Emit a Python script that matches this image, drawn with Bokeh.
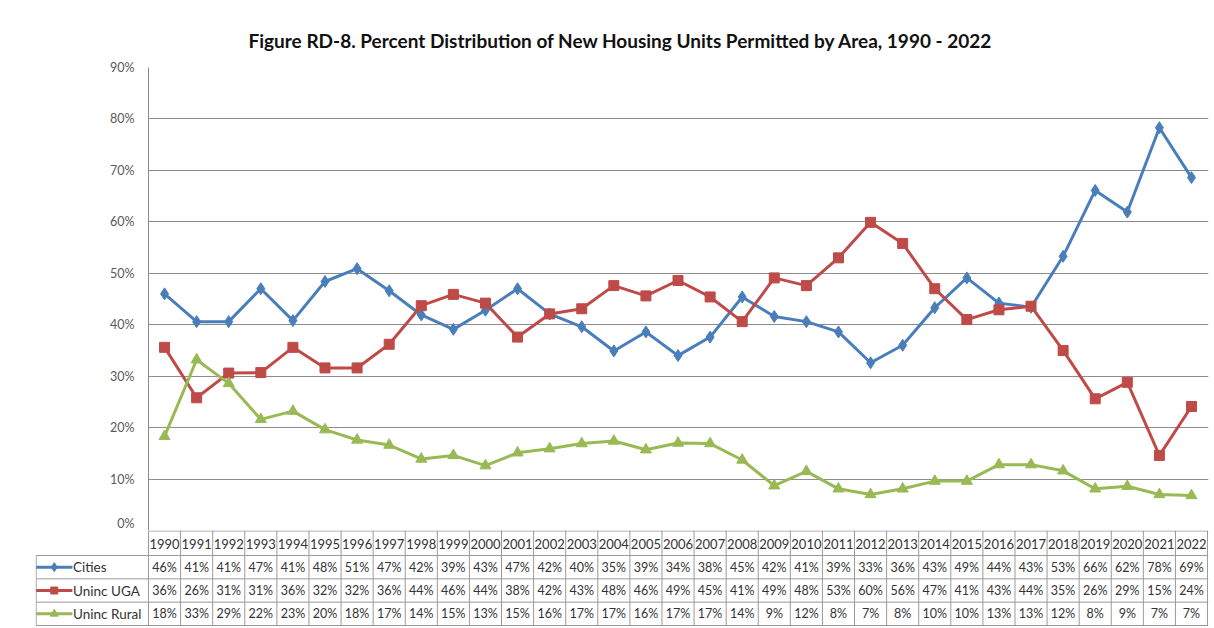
from bokeh.plotting import figure
from bokeh.models import Range1d, FixedTicker, PrintfTickFormatter, Title
from bokeh.core.properties import value
from bokeh.embed import file_html
from bokeh.resources import INLINE

years = [str(y) for y in range(1990, 2023)]
series_names = ["Cities", "Uninc UGA", "Uninc Rural"]
cities = [46.0, 40.6, 40.6, 47.0, 40.8, 48.4, 50.9, 46.6, 41.9, 39.1, 42.8, 47.0,
          42.1, 39.6, 34.9, 38.6, 34.0, 37.6, 45.4, 41.6, 40.6, 38.6, 32.6, 36.0,
          43.3, 49.1, 44.2, 43.4, 53.3, 66.1, 61.9, 78.3, 68.6]
uga = [35.6, 25.8, 30.6, 30.7, 35.6, 31.6, 31.6, 36.2, 43.7, 45.9, 44.2, 37.6,
       42.1, 43.1, 47.6, 45.6, 48.6, 45.4, 40.6, 49.1, 47.6, 53.0, 59.9, 55.8,
       47.0, 41.0, 42.9, 43.6, 35.0, 25.6, 28.8, 14.6, 24.1]
rural = [18.3, 33.2, 28.6, 21.6, 23.2, 19.6, 17.6, 16.6, 13.9, 14.6, 12.6, 15.1,
         15.9, 16.9, 17.4, 15.7, 17.0, 16.9, 13.7, 8.7, 11.5, 8.1, 7.0, 8.1,
         9.6, 9.6, 12.8, 12.8, 11.6, 8.1, 8.6, 7.0, 6.8]
y_ticks = [0, 10, 20, 30, 40, 50, 60, 70, 80, 90]

colors = ["#4a7ebb", "#be4b48", "#98b954"]
markers = ["diamond", "square", "triangle"]
msizes = [12, 10, 11]
all_series = [cities, uga, rural]

FONT = "Lato"
N = len(years)
XMAX = N + 0.03
W = 1210
FRAME_L = 148
FRAME_R = 2
TABLE_L = 35
unit = (W - FRAME_L - FRAME_R) / XMAX
LEG = (FRAME_L - TABLE_L) / unit

xs = [i + 0.5 for i in range(N)]

p = figure(width=W, height=530, x_range=Range1d(0, XMAX), y_range=Range1d(0, 90),
           output_backend="svg", toolbar_location=None,
           min_border_left=FRAME_L, min_border_right=FRAME_R, min_border_top=67, min_border_bottom=0)
p.title = Title(text="Figure RD-8. Percent Distribution of New Housing Units Permitted by Area, 1990 - 2022",
                align="left", text_font=FONT, text_font_size="19px", text_font_style="bold",
                text_color="#111111", offset=100, standoff=31)
p.xaxis.visible = False
p.xgrid.visible = False
p.outline_line_color = None
p.yaxis.ticker = FixedTicker(ticks=y_ticks)
p.yaxis.formatter = PrintfTickFormatter(format="%d%%")
p.yaxis.major_tick_line_color = None
p.yaxis.minor_tick_line_color = None
p.yaxis.major_tick_out = 0
p.yaxis.major_tick_in = 0
p.yaxis.axis_line_color = "#8a8a8a"
p.yaxis.major_label_text_font = FONT
p.yaxis.major_label_text_font_size = "12.5px"
p.yaxis.major_label_text_color = "#595959"
p.yaxis.major_label_standoff = 14
p.ygrid.grid_line_color = "#8c8c8c"
p.ygrid.grid_line_width = 1

for vals, c, m, s in zip(all_series, colors, markers, msizes):
    p.line(xs, vals, line_color=c, line_width=3)
    p.scatter(xs, vals, marker=m, size=s, fill_color=c, line_color=c)

# ---- data table below the chart ----
TH = 96
t = figure(width=W, height=TH, x_range=Range1d(-LEG, XMAX), y_range=Range1d(TH, 0),
           output_backend="svg", toolbar_location=None,
           min_border_left=TABLE_L, min_border_right=FRAME_R, min_border_top=0, min_border_bottom=0)
t.axis.visible = False
t.grid.visible = False
t.outline_line_color = None

hdr = 25
rh = (TH - 1 - hdr) / 3
row_y = [hdr + rh * k for k in range(4)]
lc = "#9a9a9a"
t.segment(x0=[0], y0=[0.5], x1=[XMAX], y1=[0.5], line_color=lc, line_width=1)
t.segment(x0=[-LEG + 0.02] * 4, y0=row_y, x1=[XMAX] * 4, y1=row_y, line_color=lc, line_width=1)
bx = [float(i) for i in range(N)] + [XMAX - 0.03]
t.segment(x0=bx, y0=[0] * len(bx), x1=bx, y1=[row_y[-1]] * len(bx), line_color=lc, line_width=1)
t.segment(x0=[-LEG + 0.02], y0=[row_y[0]], x1=[-LEG + 0.02], y1=[row_y[-1]], line_color=lc, line_width=1)

t.text(x=xs, y=[hdr / 2 + 0.5] * N, text=years, text_font=value(FONT), text_font_size="13px",
       text_color="#333333", text_align="center", text_baseline="middle")

for k, (name, vals, c, m, s) in enumerate(zip(series_names, all_series, colors, markers, msizes)):
    cy = row_y[k] + rh / 2
    labels = ["%d%%" % int(v + 0.5) for v in vals]
    t.text(x=xs, y=[cy] * N, text=labels, text_font=value(FONT), text_font_size="12.5px",
           text_color="#333333", text_align="center", text_baseline="middle")
    x0 = -LEG + 0.02
    x1 = -LEG + 1.15
    t.line([x0, x1], [cy, cy], line_color=c, line_width=3)
    t.scatter([(x0 + x1) / 2], [cy], marker=m, size=s - 3, fill_color=c, line_color=c)
    t.text(x=[x1 + 0.02], y=[cy], text=[name], text_font=value(FONT), text_font_size="13.5px",
           text_color="#333333", text_align="left", text_baseline="middle")

open("out.html", "w").write(file_html([p, t], INLINE))
